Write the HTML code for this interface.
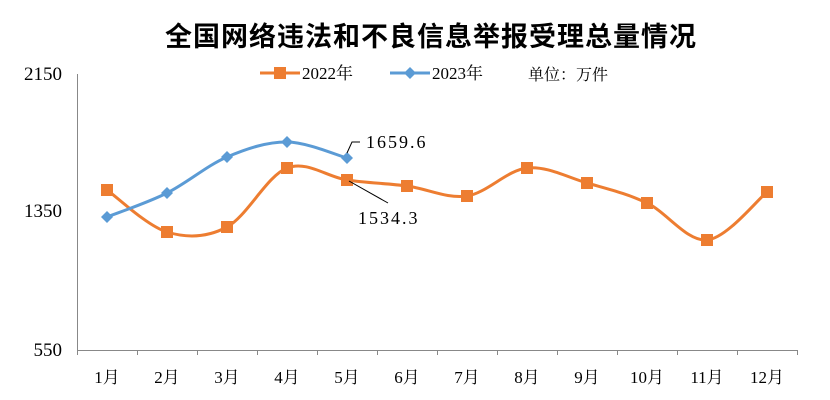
<!DOCTYPE html>
<html><head><meta charset="utf-8"><style>
html,body{margin:0;padding:0;background:#fff;}
svg{display:block;font-family:"Liberation Serif","Noto Serif CJK SC",serif;}
</style></head><body>
<svg id="s" width="830" height="400" viewBox="0 0 830 400" xmlns="http://www.w3.org/2000/svg">
<text x="431" y="46" text-anchor="middle" font-size="27" font-weight="bold" font-family="'Noto Sans CJK SC',sans-serif" fill="#000" letter-spacing="1">全国网络违法和不良信息举报受理总量情况</text>
<text x="62" y="80" text-anchor="end" font-size="19">2150</text>
<text x="62" y="217" text-anchor="end" font-size="19">1350</text>
<text x="62" y="356" text-anchor="end" font-size="19">550</text>
<line x1="77.5" y1="74" x2="77.5" y2="350" stroke="#888" stroke-width="1"/>
<line x1="77" y1="350.5" x2="797" y2="350.5" stroke="#888" stroke-width="1"/>
<g id="ticks" stroke="#888"></g>
<g id="xl" font-size="17"></g>
<g id="series"></g>
<line x1="260" y1="73" x2="300" y2="73" stroke="#ed7d31" stroke-width="3"/>
<rect x="274" y="67" width="12" height="12" fill="#ed7d31"/>
<text x="302" y="79" font-size="17">2022年</text>
<line x1="390" y1="73" x2="430" y2="73" stroke="#5b9bd5" stroke-width="3"/>
<polygon points="410,67 416,73 410,79 404,73" fill="#5b9bd5"/>
<text x="432" y="79" font-size="17">2023年</text>
<text x="528" y="80" font-size="16" font-family="'Noto Serif CJK SC',serif">单位：万件</text>
<polyline points="347,153 352,142 360,142" fill="none" stroke="#000" stroke-width="1"/>
<text x="366" y="148" font-size="18" letter-spacing="2">1659.6</text>
<line x1="349" y1="181" x2="388" y2="203" stroke="#000" stroke-width="1"/>
<text x="358" y="224" font-size="18" letter-spacing="2">1534.3</text>
</svg>
<script>
var ns="http://www.w3.org/2000/svg";
function el(t,a,p){var e=document.createElementNS(ns,t);for(var k in a)e.setAttribute(k,a[k]);p.appendChild(e);return e;}
var tk=document.getElementById('ticks'),xl=document.getElementById('xl'),sr=document.getElementById('series');
for(var i=0;i<=12;i++){var x=77+60*i+0.5;el('line',{x1:x,y1:350,x2:x,y2:355},tk);}
for(var i=0;i<12;i++){var t=el('text',{x:107+60*i,y:383,'text-anchor':'middle'},xl);t.textContent=(i+1)+'月';}
function path(p){var d='M'+p[0][0]+','+p[0][1];for(var i=0;i<p.length-1;i++){var p0=p[i-1]||p[i],p1=p[i],p2=p[i+1],p3=p[i+2]||p2;var c1x=p1[0]+(p2[0]-p0[0])/6,c1y=p1[1]+(p2[1]-p0[1])/6,c2x=p2[0]-(p3[0]-p1[0])/6,c2y=p2[1]-(p3[1]-p1[1])/6;d+=' C'+c1x+','+c1y+' '+c2x+','+c2y+' '+p2[0]+','+p2[1];}return d;}
var o=[190,232,227,168,180,186,196,168,183,203,240,192].map(function(y,i){return[107+60*i,y]});
var b=[217,193,157,142,158].map(function(y,i){return[107+60*i,y]});
el('path',{d:path(o),fill:'none',stroke:'#ed7d31','stroke-width':3},sr);
o.forEach(function(p){el('rect',{x:p[0]-6,y:p[1]-6,width:12,height:12,fill:'#ed7d31'},sr);});
el('path',{d:path(b),fill:'none',stroke:'#5b9bd5','stroke-width':3},sr);
b.forEach(function(p){el('polygon',{points:(p[0])+','+(p[1]-6)+' '+(p[0]+6)+','+p[1]+' '+p[0]+','+(p[1]+6)+' '+(p[0]-6)+','+p[1],fill:'#5b9bd5'},sr);});
</script>
</body></html>
